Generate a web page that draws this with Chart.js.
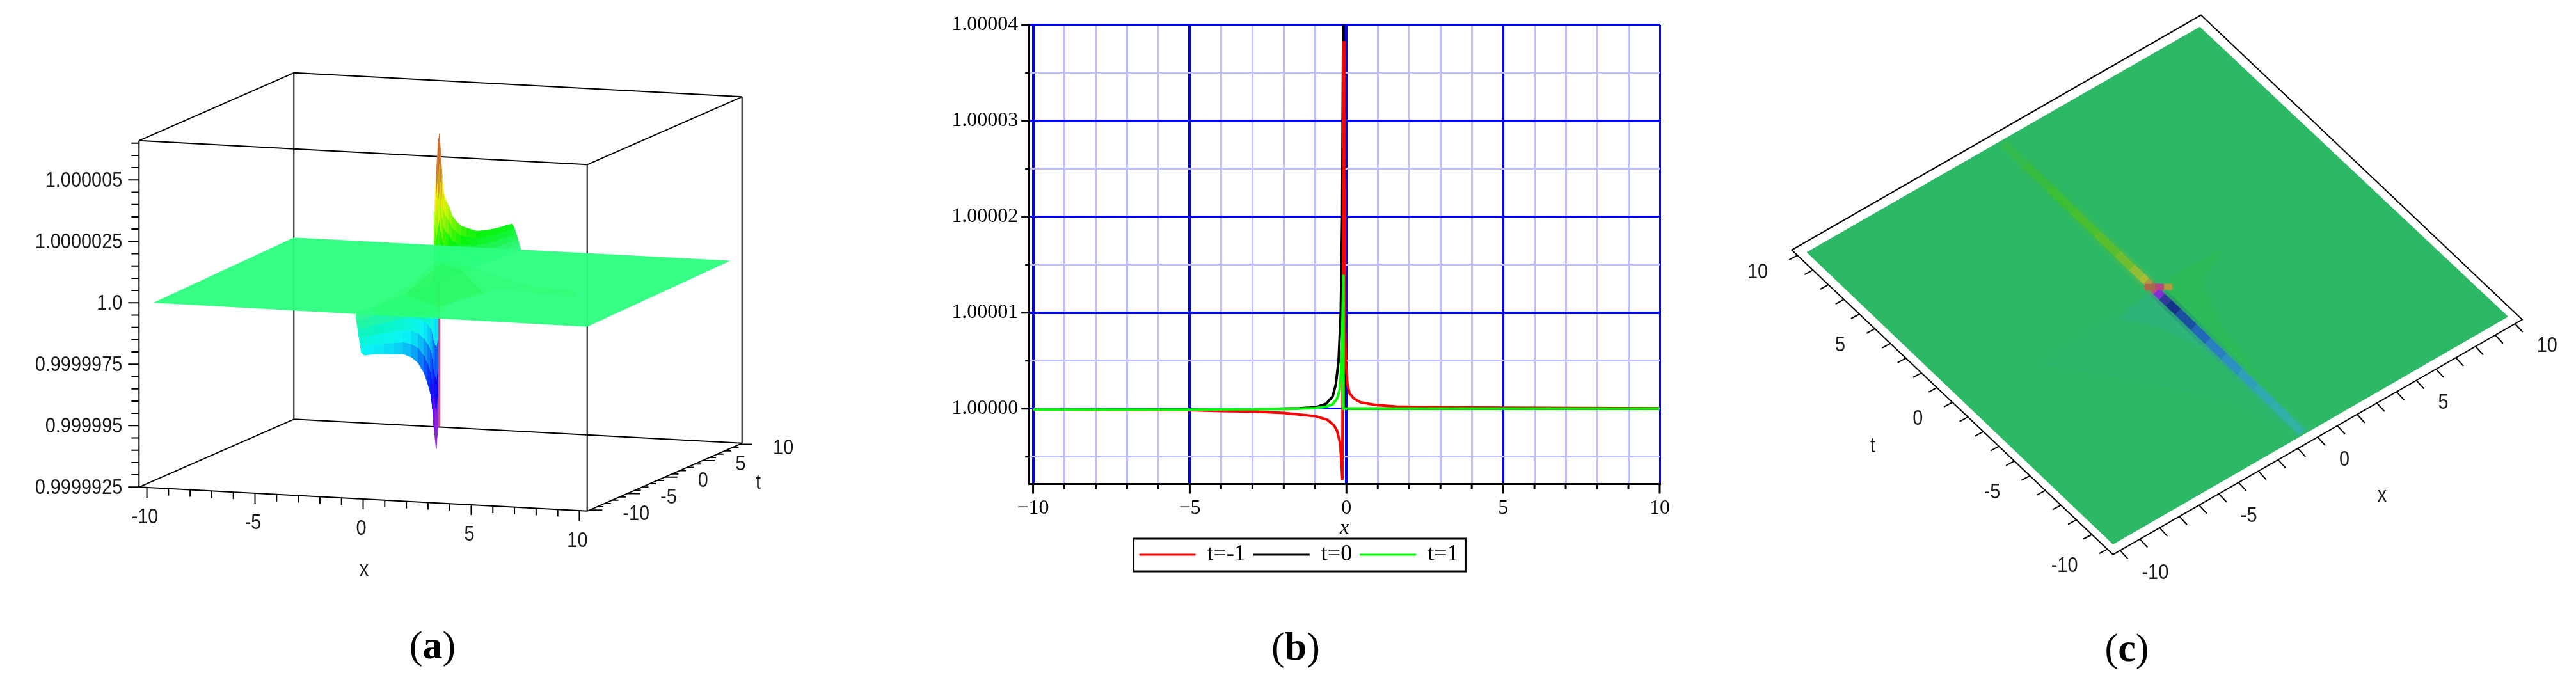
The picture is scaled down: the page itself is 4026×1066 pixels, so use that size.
<!DOCTYPE html>
<html>
<head>
<meta charset="utf-8">
<title>Figure</title>
<script src="https://cdn.jsdelivr.net/npm/chart.js@4/dist/chart.umd.min.js"></script>
<style>
  html, body { margin: 0; background: #fff; }
  body { position: relative; width: 4026px; height: 1066px; overflow: hidden; }
  canvas { position: absolute; top: 0; }
  .cap { position: absolute; transform: translate(-50%, -50%); font: 62px "Liberation Serif", serif; color: #000; white-space: pre; }
</style>
</head>
<body>
<canvas id="panelA" width="1400" height="1000" style="left:0"></canvas>
<canvas id="panelB" width="1158" height="895" style="left:1466.4px"></canvas>
<canvas id="panelC" width="1326" height="1000" style="left:2700px"></canvas>
<div class="cap" style="left:676px;top:1008px">(<b>a</b>)</div>
<div class="cap" style="left:2025px;top:1010px">(<b>b</b>)</div>
<div class="cap" style="left:3324px;top:1012px">(<b>c</b>)</div>

<script>
/* PANEL B: curves, y is in units of 1e-5 above 1 */
const redX = [-10, -5, -4, -3, -2, -1, -0.6, -0.4, -0.3, -0.2, -0.15, -0.13, -0.085, -0.07, -0.05, -0.02, 0.034, 0.1, 0.24, 0.44, 0.92, 1.6, 2.35, 5, 10];
const redY = [-0.01, -0.015, -0.025, -0.03, -0.045, -0.078, -0.118, -0.174, -0.23, -0.36, -0.62, -0.743, 3.83, 2.5, 0.92, 0.47, 0.25, 0.16, 0.105, 0.067, 0.038, 0.022, 0.016, 0.009, 0.003];
const blackX = [-10, -5, -3, -2, -1.5, -1.22, -0.92, -0.65, -0.44, -0.34, -0.25, -0.18, -0.135, -0.12, -0.105, -0.09, -0.075, -0.068, -0.05, 0, 10];
const blackY = [-0.01, -0.01, -0.005, 0, 0.003, 0.009, 0.02, 0.05, 0.127, 0.25, 0.5, 1, 2, 3, 4, 4.6, 0.33, 0.11, 0.02, 0, 0];
const greenX = [-10, -5, -2, -1, -0.65, -0.44, -0.3, -0.22, -0.17, -0.136, -0.11, -0.1, -0.095, -0.09, 0, 5, 10];
const greenY = [-0.01, -0.01, -0.003, 0.005, 0.02, 0.045, 0.105, 0.19, 0.4, 0.7, 1.2, 1.395, 0.6, 0, 0, 0, 0];
const bTicksX = [-10, -9, -8, -7, -6, -5, -4, -3, -2, -1, 0, 1, 2, 3, 4, 5, 6, 7, 8, 9, 10];
const bTicksY = [-0.5, 0, 0.5, 1, 1.5, 2, 2.5, 3, 3.5, 4];

/* PANEL A: surface, z is in units of 1e-6 above 1 */
const aZLabels = ["0.9999925", "0.999995", "0.9999975", "1.0", "1.0000025", "1.000005"];
const aZTicks = [-7.5, -5, -2.5, 0, 2.5, 5];
const aTickLabels = ["-10", "-5", "0", "5", "10"];
const aTickValues = [-10, -5, 0, 5, 10];
const plateX = [-9.44, 10, 9.7, -9.77];
const plateT = [-9.8, -10, 9.37, 9.34];
const upperT = [-0.7, -0.62, -0.45, -0.2, -0.08, 0.1, 0.25, 0.4, 0.7, 1.02, 1.4, 1.87, 2.4, 3.09, 4.2, 5.3, 6.52, 7.6, 8.2, 8.47, 8.9, 9.2];
const upperX = [-0.05, -0.05, -0.04, -0.03, -0.02, -0.02, -0.01, 0, 0.01, 0.02, 0.04, 0.06, 0.09, 0.12, 0.16, 0.21, 0.27, 0.31, 0.34, 0.35, 0.37, 0.38];
const upperZ = [1.63, 2.92, 4.34, 5.65, 6, 5, 4.2, 3.53, 3.15, 2.89, 2.45, 2.17, 1.9, 1.72, 1.45, 1.33, 1.255, 1.22, 1.2, 1.04, 0.5, 0.1];
const lowerT = [-9.61, -9.3, -9, -8.64, -7.5, -6.4, -5.21, -4.2, -3.26, -2.5, -1.8, -1.4, -1.06, -0.85, -0.7, -0.55, -0.45, -0.25];
const lowerX = [-0.44, -0.43, -0.42, -0.4, -0.35, -0.3, -0.25, -0.2, -0.16, -0.13, -0.1, -0.08, -0.07, -0.06, -0.05, -0.04, -0.04, -0.03];
const lowerZ = [-0.23, -1, -1.7, -1.85, -1.95, -2.1, -2.27, -2.4, -2.67, -3, -3.52, -4, -4.46, -5.1, -5.81, -6.4, -6.77, -5.9];
const stripT = [-0.25, 0.04, 0.04, -0.25];
const stripZ = [0, 0, -5.9, -5.9];
const glowX = [-0.17, -1.1, -2, -1.22, 3.57, 6.3, 6.9, 3.13, 2.27, 3.08, 0.53];
const glowT = [-8.47, 0, 5.04, 5.3, 0.27, -0.78, -2.58, -1.22, -4.23, -9.33, -9.9];
const coreX = [-0.27, -1.54, -0.06, 2.87, 2.25];
const coreT = [-3.8, 4.56, 3, -2.67, -6.93];

/* PANEL C: top view of the same surface */
const cTickLabels = ["-10", "-5", "0", "5", "10"];
const cTickValues = [-10, -5, 0, 5, 10];
const cPlateX = [-9.675, 9.67, 9.59, -9.62];
const cPlateT = [-9.59, -9.55, 9.55, 9.56];
const bandT = [9.4, 8, 6.5, 5, 3.5, 2.2, 1.3, 0.7, 0.4, 0.15, -0.1, -0.25, -0.6, -1, -1.6, -2.6, -3.5, -4.5, -5.5, -6.5, -7.5, -8.5, -9.46];
const bandX = [-0.14, -0.15, -0.16, -0.17, -0.19, -0.2, -0.21, -0.21, -0.22, -0.22, -0.22, -0.22, -0.23, -0.23, -0.23, -0.24, -0.25, -0.26, -0.27, -0.28, -0.29, -0.3, -0.31];
const bandColors = ["#36BB50", "#38BC40", "#3EBE35", "#48BE30", "#58BE2E", "#70BE30", "#90BE35", "#A8BC38", "#B09A45", "#B86A50", "#C04A90", "#8030D0", "#303A9A", "#143488", "#1A50A0", "#2068B8", "#2880C0", "#2C90C0", "#30A0B8", "#32A8B0", "#32AEA8", "#32B2A0", "#30B49A"];
const blobX = [-0.45, -0.12, 0.15, 0.4];
const blobT = [0.2, -0.05, -0.25, -0.45];
const blobColors = ["#A8684A", "#B84488", "#B09A40", "#7CC038"];
const tealWideX = [-0.3, -0.84, -2.3, -3.9, -6.05, -4, -1.5, -0.35];
const tealWideT = [-0.15, -0.1, -0.3, -0.4, -0.6, -3, -6.5, -9.4];
const tealNearX = [-0.25, -0.84, -2.2, -1.3, -0.7, -0.4];
const tealNearT = [-0.2, -0.2, -0.5, -1.8, -3.5, -6];
const leafX = [-0.05, 1.5, 3.2, 1.5, 0.7, 0.2, -0.1];
const leafT = [-0.1, 0, -0.05, -0.9, -3, -6, -9.4];

/* PROJECTIONS: result is in page pixels, the charts' scales are set to those */
function projectA(x, t, z) {
  return {
    x: 217.3 + 35.02 * (x + 10) + 12.1 * (t + 10),
    y: 473.3 + 1.875 * (x + 10) - 5.3 * (t + 10) - 38.4 * z
  };
}

function projectC(x, t) {
  return {
    x: 3302.3 + 31.98 * (x + 10) - 25.1 * (t + 10),
    y: 866.8 - 18.36 * (x + 10) - 23.8 * (t + 10)
  };
}

/* HELPERS */
function polygon(points, color) {
  return { data: points, fill: "shape", backgroundColor: color, borderColor: "transparent", borderWidth: 0, pointRadius: 0 };
}

function cell(points, color) {
  return { data: points, fill: "shape", backgroundColor: color, borderColor: color, borderWidth: 1, pointRadius: 0 };
}

function lines(points, width, color) {
  return { data: points, fill: false, borderColor: color, borderWidth: width, pointRadius: 0 };
}

function pageChart(id, xMin, xMax, datasets, labels) {
  return new Chart(document.getElementById(id), {
    type: "line",
    data: { datasets: datasets.slice().reverse() },
    options: {
      responsive: false,
      animation: false,
      events: [],
      layout: { padding: 0 },
      scales: {
        x: { type: "linear", display: false, min: xMin, max: xMax },
        y: { type: "linear", display: false, min: 0, max: 1000, reverse: true }
      },
      plugins: { legend: { display: false }, tooltip: { enabled: false } }
    },
    plugins: [textLayer(labels)]
  });
}

function textLayer(items) {
  return {
    id: "textLayer",
    afterDraw(chart) {
      const ctx = chart.ctx;
      items.forEach(it => {
        ctx.save();
        ctx.translate(chart.scales.x.getPixelForValue(it.x), chart.scales.y.getPixelForValue(it.y));
        ctx.scale(0.85, 1);
        ctx.font = '34px "Liberation Sans", sans-serif';
        ctx.fillStyle = "#1a1a1a";
        ctx.textAlign = it.align || "center";
        ctx.textBaseline = "middle";
        ctx.fillText(it.text, 0, 0);
        ctx.restore();
      });
    }
  };
}

/* colour of the surface by height */
const hueZ = [-6.8, -5.5, -4.5, -3.5, -2.7, -1.85, -1.2, -0.65, 0, 0.6, 1.3, 2.2, 2.9, 3.5, 4.5, 6];
const hueDeg = [285, 270, 240, 225, 205, 183, 172, 160, 147, 135, 120, 90, 70, 55, 30, 12];

function surfaceColor(z) {
  let i = 0;
  while (i < hueZ.length - 2 && z > hueZ[i + 1]) i++;
  const k = Math.min(1, Math.max(0, (z - hueZ[i]) / (hueZ[i + 1] - hueZ[i])));
  const hue = hueDeg[i] + k * (hueDeg[i + 1] - hueDeg[i]);
  const sat = z > 3.5 ? 62 : (z < -5.5 ? 70 : 92);
  const light = Math.abs(z) < 1 ? 60 - 10 * Math.abs(z) : 50;
  return `hsl(${hue}, ${sat}%, ${light}%)`;
}

/* vertical sheet from the plate up or down to the edge */
function sheet(xs, ts, zs) {
  const levels = [0, 0.2, 0.4, 0.6, 0.8, 1];
  const out = [];
  for (let i = 0; i < ts.length - 1; i++) {
    for (let j = 0; j < levels.length - 1; j++) {
      const a = levels[j], b = levels[j + 1];
      out.push(cell([
        projectA(xs[i], ts[i], zs[i] * a),
        projectA(xs[i], ts[i], zs[i] * b),
        projectA(xs[i + 1], ts[i + 1], zs[i + 1] * b),
        projectA(xs[i + 1], ts[i + 1], zs[i + 1] * a)
      ], surfaceColor((zs[i] + zs[i + 1]) / 2 * (a + b) / 2)));
    }
  }
  return out;
}

const gap = { x: null, y: null };

/* PANEL A */
function boxA() {
  const lo = -7.5, hi = 6.6, pts = [];
  const edge = (a, b) => pts.push(projectA(...a), projectA(...b), gap);
  [[-10, -10], [10, -10], [10, 10], [-10, 10]].forEach(([x, t], i, all) => {
    const [nx, nt] = all[(i + 1) % 4];
    edge([x, t, lo], [nx, nt, lo]);
    edge([x, t, hi], [nx, nt, hi]);
    edge([x, t, lo], [x, t, hi]);
  });
  return pts;
}

function ticksA() {
  const pts = [];
  const seg = (p, dx, dy) => pts.push(p, { x: p.x + dx, y: p.y + dy }, gap);
  for (let i = 0; i <= 28; i++) {
    const z = -7.5 + i * 0.5;
    seg(projectA(-10, -10, z), i % 5 === 0 ? -17 : -12, 0);
  }
  for (let v = -10; v <= 10; v++) {
    seg(projectA(v * 0.965, -10, -7.5), 0, v % 5 === 0 ? 16 : 11);
    seg(projectA(10, v * 0.97, -7.5), v % 5 === 0 ? 20 : 10, 0);
  }
  return pts;
}

const aDatasets = [
  lines(boxA(), 2, "#000"),
  ...sheet(lowerX, lowerT, lowerZ),
  polygon(stripT.map((t, i) => projectA(-0.02, t, stripZ[i])), "#D0487E"),
  ...sheet(upperX, upperT, upperZ),
  polygon(plateX.map((x, i) => projectA(x, plateT[i], 0)), "rgba(44,255,128,0.95)"),
  polygon(glowX.map((x, i) => projectA(x, glowT[i], 0)), "rgba(38,245,80,0.2)"),
  polygon(coreX.map((x, i) => projectA(x, coreT[i], 0)), "rgba(34,240,50,0.25)"),
  lines(ticksA(), 2, "#000")
];

const aLabels = [];
aZLabels.forEach((s, i) => {
  const p = projectA(-10, -10, aZTicks[i]);
  aLabels.push({ text: s, x: p.x - 26, y: p.y + 1, align: "right" });
});
aTickLabels.forEach((s, i) => {
  const px = projectA(aTickValues[i] * 0.965, -10, -7.5);
  aLabels.push({ text: s, x: px.x - 3, y: px.y + 47 });
  const pt = projectA(10, aTickValues[i] * 0.97, -7.5);
  aLabels.push({ text: s, x: pt.x + 52, y: pt.y + 6, align: "left" });
});
aLabels.push({ text: "x", x: 569, y: 891 }, { text: "t", x: 1185, y: 755 });

pageChart("panelA", 0, 1400, aDatasets, aLabels);

/* PANEL B */
const toPoints = (xs, ys) => xs.map((x, i) => ({ x, y: ys[i] }));
const isMajorX = v => v % 5 === 0;
const isMajorY = v => Number.isInteger(v);

const axisTicks = {
  id: "axisTicks",
  afterDraw(chart) {
    const { ctx, chartArea, scales } = chart;
    ctx.save();
    ctx.strokeStyle = "#000";
    ctx.lineWidth = 3;
    ctx.beginPath();
    bTicksX.forEach(v => {
      const px = scales.x.getPixelForValue(v);
      ctx.moveTo(px, chartArea.bottom);
      ctx.lineTo(px, chartArea.bottom + (isMajorX(v) ? 15 : 8));
    });
    bTicksY.forEach(v => {
      const py = scales.y.getPixelForValue(v);
      ctx.moveTo(chartArea.left, py);
      ctx.lineTo(chartArea.left - (isMajorY(v) ? 12 : 6), py);
    });
    ctx.stroke();

    /* frame round the legend */
    const boxes = chart.legend.legendHitBoxes;
    const first = boxes[0], last = boxes[boxes.length - 1];
    const mid = first.top + first.height / 2;
    ctx.lineWidth = 3;
    ctx.strokeRect(first.left - 9, mid - 25, last.left + last.width - first.left + 20, 51);
    ctx.restore();
  }
};

new Chart(document.getElementById("panelB"), {
  type: "line",
  data: {
    datasets: [
      { label: "t=-1", data: toPoints(redX, redY), borderColor: "#FF0000", borderWidth: 4, pointRadius: 0, order: 1 },
      { label: "t=0", data: toPoints(blackX, blackY), borderColor: "#000000", borderWidth: 4, pointRadius: 0, order: 2 },
      { label: "t=1", data: toPoints(greenX, greenY), borderColor: "#00FF00", borderWidth: 4, pointRadius: 0, order: 0 }
    ]
  },
  options: {
    responsive: false,
    animation: false,
    events: [],
    layout: { padding: { top: 38.8, right: 30, left: 0, bottom: 0 } },
    scales: {
      x: {
        type: "linear",
        min: -10.13,
        max: 10,
        afterBuildTicks: s => { s.ticks = bTicksX.map(value => ({ value })); },
        afterFit: s => { s.height = 80.4; s.paddingLeft = 0; s.paddingRight = 0; },
        grid: {
          drawTicks: false,
          color: c => (isMajorX(c.tick.value) ? "#0000FF" : "#BFBFFF"),
          lineWidth: c => (isMajorX(c.tick.value) ? (c.tick.value > 0 ? 3 : 4) : 3)
        },
        border: { color: "#000", width: 3 },
        ticks: {
          autoSkip: false,
          maxRotation: 0,
          padding: 19,
          color: "#000",
          font: { family: "Liberation Serif", size: 32 },
          callback: v => (isMajorX(v) ? String(v).replace("-", "\u2212") : "")
        },
        title: {
          display: true,
          text: "x",
          color: "#000",
          padding: { top: 0, bottom: -8 },
          font: { family: "Liberation Serif", size: 32, style: "italic" }
        }
      },
      y: {
        type: "linear",
        min: -0.786,
        max: 4,
        afterBuildTicks: s => { s.ticks = bTicksY.map(value => ({ value })); },
        afterFit: s => { s.width = 142.2; s.paddingTop = 0; s.paddingBottom = 0; },
        grid: {
          drawTicks: false,
          color: c => (isMajorY(c.tick.value) ? "#0000FF" : "#BFBFFF"),
          lineWidth: c => (isMajorY(c.tick.value) ? (c.tick.value % 2 ? 4 : 3) : 3)
        },
        border: { color: "#000", width: 3 },
        ticks: {
          autoSkip: false,
          padding: 17,
          color: "#000",
          font: { family: "Liberation Serif", size: 32 },
          callback: v => (isMajorY(v) ? (1 + v * 1e-5).toFixed(5) : "")
        }
      }
    },
    plugins: {
      tooltip: { enabled: false },
      legend: {
        position: "bottom",
        labels: {
          color: "#000",
          boxWidth: 88,
          boxHeight: 3,
          padding: 12,
          font: { family: "Liberation Serif", size: 36 },
          generateLabels: chart => chart.data.datasets.map((d, i) => ({
            text: d.label, fillStyle: d.borderColor, strokeStyle: d.borderColor, lineWidth: 0, datasetIndex: i, fontColor: "#000"
          }))
        }
      }
    }
  },
  plugins: [axisTicks]
});

/* PANEL C */
function ticksC() {
  const pts = [];
  const seg = (p, dx, dy) => pts.push(p, { x: p.x + dx, y: p.y + dy }, gap);
  for (let v = -10; v <= 10; v++) {
    seg(projectC(-10, v * 0.965), -13, 7);
    seg(projectC(v * 0.965, -10), 12, 13);
  }
  return pts;
}

const toC = (xs, ts) => xs.map((x, i) => projectC(x, ts[i]));

function colouredLine(points, width, colors, alpha) {
  return {
    data: points,
    fill: false,
    borderWidth: width,
    borderColor: colors[0] + alpha,
    borderCapStyle: "butt",
    pointRadius: 0,
    segment: { borderColor: c => colors[c.p0DataIndex] + alpha }
  };
}

const cDatasets = [
  lines([...[[-10, -10], [10, -10], [10, 10], [-10, 10], [-10, -10]].map(p => projectC(...p))], 2, "#000"),
  lines(ticksC(), 2, "#000"),
  polygon(toC(cPlateX, cPlateT), "#2DB866"),
  polygon(toC(tealWideX, tealWideT), "rgba(48,176,160,0.1)"),
  polygon(toC(tealNearX, tealNearT), "rgba(48,170,170,0.22)"),
  polygon(toC(leafX, leafT), "rgba(48,196,60,0.3)"),
  colouredLine(toC(bandX, bandT), 24, bandColors, "30"),
  colouredLine(toC(bandX, bandT), 13, bandColors, "ff"),
  colouredLine(toC(blobX, blobT), 10, blobColors, "ff")
];

const cLabels = [];
cTickLabels.forEach((s, i) => {
  const pt = projectC(-10, cTickValues[i] * 0.965);
  cLabels.push({ text: s, x: pt.x - 46, y: pt.y + 26, align: "right" });
  const px = projectC(cTickValues[i] * 0.965, -10);
  cLabels.push({ text: s, x: px.x + 34, y: px.y + 35, align: "left" });
});
cLabels.push({ text: "t", x: 2927, y: 698 }, { text: "x", x: 3723, y: 775 });

pageChart("panelC", 2700, 4026, cDatasets, cLabels);
</script>
</body>
</html>
